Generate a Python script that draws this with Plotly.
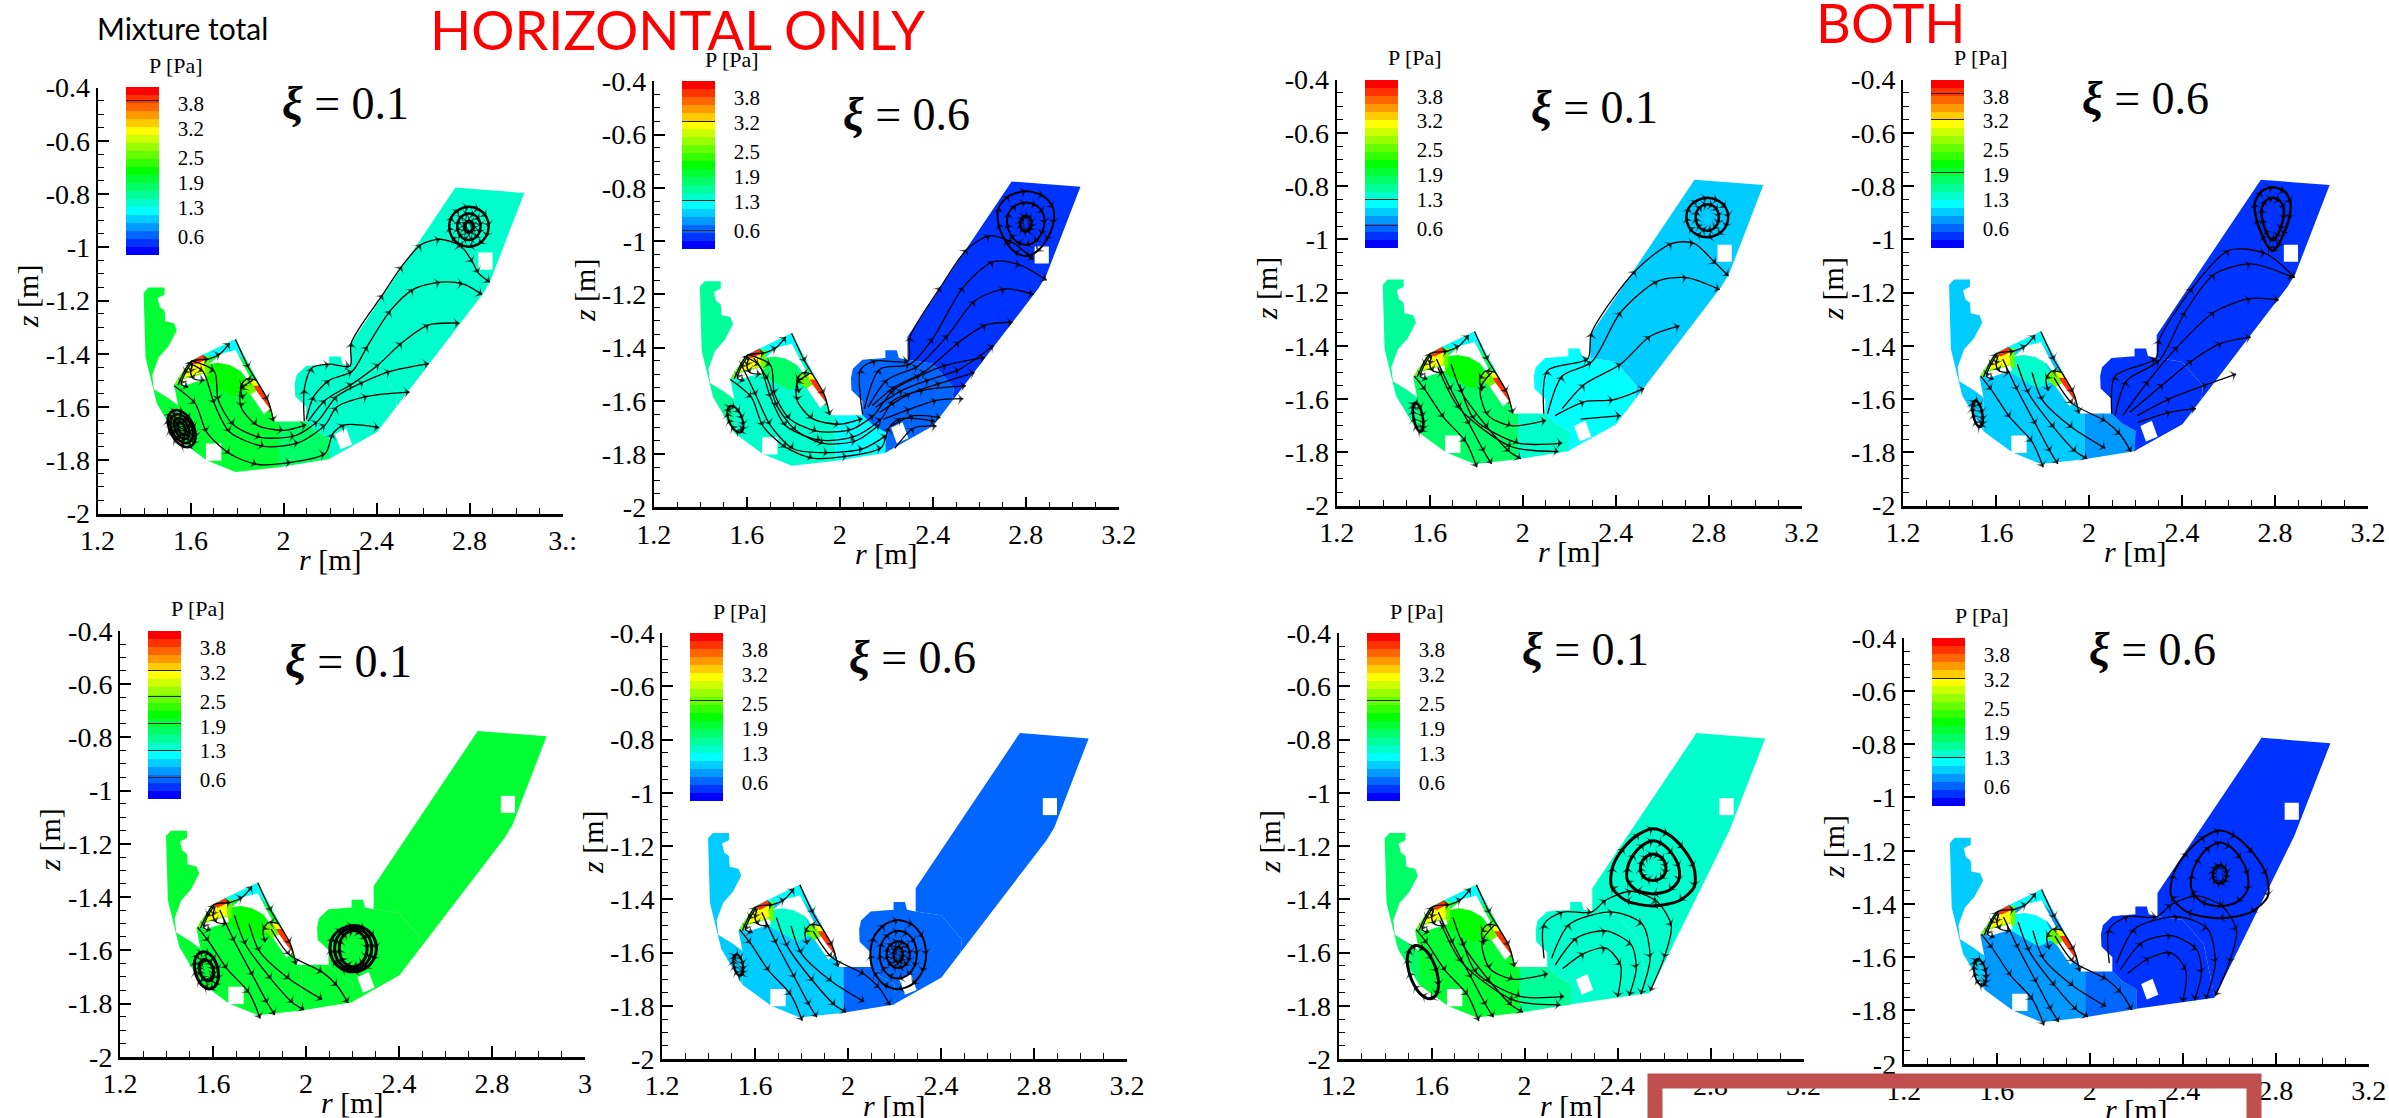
import plotly.graph_objects as go

W, H = 2389, 1118

# ---------- panels (pixels of the page) ----------
PANEL_LEFT = [97.6, 653.8, 1336.7, 1903, 120, 662, 1338.6, 1903.8]
PANEL_TOP = [87.5, 81.3, 79.6, 79.6, 630.8, 633, 633, 637.7]
PANEL_WIDTH, PANEL_HEIGHT = 465, 426
XI_LABEL = ["0.1", "0.6", "0.1", "0.6", "0.1", "0.6", "0.1", "0.6"]
XI_X = [345, 906, 1594, 2145, 348, 913, 1585, 2152]
XI_Y = [104, 114, 107, 99, 661, 657, 649, 649]
X_TICK_VALUES = [1.2, 1.6, 2.0, 2.4, 2.8, 3.2]
X_TICK_TEXT = ["1.2", "1.6", "2", "2.4", "2.8", "3.2"]
LAST_X_LABEL = ["3.:", "3.2", "3.2", "3.2", "3", "3.2", "3.2", "3.2"]
Y_TICK_VALUES = [-0.4, -0.6, -0.8, -1, -1.2, -1.4, -1.6, -1.8, -2]
Y_TICK_TEXT = ["-0.4", "-0.6", "-0.8", "-1", "-1.2", "-1.4", "-1.6", "-1.8", "-2"]

# ---------- colour levels ----------
P_MIN, P_MAX = 0.15, 4.2
BANDS = ["#0000ff", "#0033ff", "#0066ff", "#0099ff", "#00ccff", "#00ffff", "#00ffcc",
         "#00ff99", "#00ff66", "#00ff33", "#00ff00", "#33ff00", "#66ff00", "#99ff00",
         "#ccff00", "#ffff00", "#ffcc00", "#ff9900", "#ff6600", "#ff3300", "#ff0000"]
LEGEND_TICKS = [0.6, 1.3, 1.9, 2.5, 3.2, 3.8]
LEGEND_LINES = [[1.96, 3.87], [0.6, 1.32, 3.23], [0.69, 1.31, 2.61], [1.33, 1.97, 3.25, 3.88],
                [0.67, 1.31, 1.97, 2.62, 3.25], [2.58], [2.58], [0.68, 1.32, 2.61, 3.23]]

# ---------- pressure of each zone, per panel ----------
P_LOBE = [1.97, 1.57, 1.57, 0.96, 1.97, 0.96, 1.77, 0.96]
P_INNER = [1.97, 1.37, 1.77, 1.0, 1.97, 0.96, 1.9, 0.76]
P_CROWN = [2.2, 1.77, 2.2, 1.37, 2.2, 1.37, 2.2, 1.16]
P_MID = [1.77, 1.16, 1.37, 0.76, 1.97, 0.55, 1.57, 0.55]
P_NEAR = [1.37, 0.55, 1.16, 0.35, 1.97, 0.55, 1.37, 0.35]
P_OUTER = [1.37, 0.35, 0.96, 0.35, 1.97, 0.55, 1.37, 0.35]
P_DOME = 1.2

# ---------- geometry, r and z in metres ----------
LOBE_R = [1.419, 1.488, 1.488, 1.458, 1.468, 1.488, 1.491, 1.529, 1.541, 1.505, 1.463, 1.435, 1.442, 1.505,
          1.546, 1.546, 1.455, 1.406, 1.398]
LOBE_Z = [-1.151, -1.151, -1.178, -1.191, -1.225, -1.238, -1.278, -1.285, -1.312, -1.372, -1.413, -1.48,
          -1.533, -1.567, -1.594, -1.721, -1.587, -1.413, -1.171]
INNER_R = [1.529, 1.595, 1.793, 1.941, 1.962, 1.98, 1.98, 1.793, 1.669, 1.546, 1.546]
INNER_Z = [-1.517, -1.429, -1.346, -1.587, -1.654, -1.654, -1.826, -1.844, -1.80, -1.721, -1.594]
CROWN_R = [1.65, 1.73, 1.81, 1.85, 1.78, 1.66]
CROWN_Z = [-1.44, -1.425, -1.46, -1.53, -1.56, -1.50]
MID_R = [1.98, 2.097, 2.14, 2.2, 2.2, 1.98]
MID_Z = [-1.654, -1.654, -1.69, -1.72, -1.795, -1.826]
NEAR_R = [2.097, 2.097, 2.05, 2.048, 2.056, 2.097, 2.196, 2.196, 2.245, 2.254, 2.291, 2.40, 2.49, 2.484, 2.402, 2.196, 2.2, 2.14]
NEAR_Z = [-1.654, -1.6, -1.56, -1.513, -1.48, -1.446, -1.439, -1.41, -1.41, -1.439, -1.446, -1.46, -1.55, -1.6, -1.694, -1.795, -1.72, -1.69]
OUTER_R = [2.291, 2.291, 2.739, 3.035, 2.887, 2.854, 2.402, 2.484, 2.49, 2.40]
OUTER_Z = [-1.446, -1.359, -0.776, -0.796, -1.131, -1.178, -1.694, -1.6, -1.55, -1.46]
NEAR_B_R = [2.097, 2.097, 2.05, 2.048, 2.056, 2.097, 2.196, 2.196, 2.245, 2.254, 2.291, 2.40, 2.49, 2.537, 2.2, 2.2, 2.14]
NEAR_B_Z = [-1.654, -1.6, -1.56, -1.513, -1.48, -1.446, -1.439, -1.41, -1.41, -1.439, -1.446, -1.46, -1.55, -1.752, -1.794, -1.72, -1.69]
OUTER_B_R = [2.291, 2.291, 2.739, 3.035, 2.88, 2.537, 2.49, 2.40]
OUTER_B_Z = [-1.446, -1.359, -0.776, -0.796, -1.144, -1.752, -1.55, -1.46]
DOME_R = [1.595, 1.793, 1.92, 1.87, 1.793, 1.70]
DOME_Z = [-1.429, -1.346, -1.56, -1.47, -1.39, -1.41]
HOT_ZONES = [
    ([1.529, 1.595, 1.68, 1.68, 1.56], [-1.517, -1.429, -1.405, -1.48, -1.51], 2.6),
    ([1.57, 1.60, 1.66, 1.66], [-1.49, -1.43, -1.425, -1.47], 3.2),
    ([1.60, 1.65, 1.67, 1.62], [-1.43, -1.405, -1.42, -1.44], 3.9),
    ([1.81, 1.85, 1.90, 1.92], [-1.52, -1.48, -1.53, -1.60], 2.5),
    ([1.85, 1.88, 1.92, 1.90], [-1.49, -1.50, -1.56, -1.56], 3.2),
    ([1.87, 1.90, 1.945, 1.94], [-1.52, -1.52, -1.60, -1.62], 4.0),
]
WHITE_ZONES = [
    ([2.838, 2.899, 2.899, 2.838], [-1.02, -1.02, -1.084, -1.084]),
    ([1.666, 1.732, 1.732, 1.666], [-1.737, -1.737, -1.802, -1.802]),
    ([2.221, 2.27, 2.295, 2.245], [-1.701, -1.681, -1.741, -1.759]),
    ([1.554, 1.661, 1.669, 1.562], [-1.50, -1.473, -1.493, -1.523]),
    ([1.858, 1.883, 1.941, 1.916], [-1.553, -1.54, -1.607, -1.627]),
    ([1.677, 1.735, 1.793, 1.85, 1.858, 1.817, 1.768, 1.719], [-1.439, -1.399, -1.386, -1.48, -1.513, -1.466, -1.442, -1.434]),
]

# ---------- streamlines ----------
DOME_LINES = [
    ([1.546, 1.603, 1.677, 1.727, 1.768], [-1.517, -1.429, -1.42, -1.40, -1.36]),
    ([1.793, 1.85, 1.932, 1.957], [-1.346, -1.453, -1.574, -1.654]),
    ([1.605, 1.575, 1.56, 1.59], [-1.432, -1.475, -1.515, -1.525]),
    ([1.61, 1.60, 1.615, 1.66], [-1.435, -1.47, -1.495, -1.50]),
    ([1.885, 1.84, 1.815, 1.825], [-1.50, -1.495, -1.525, -1.57]),
]
TURN_LINES = [
    ([1.603, 1.702, 1.719, 1.784, 1.90, 2.048, 2.146, 2.229, 2.344, 2.459, 2.624],
     [-1.426, -1.466, -1.574, -1.667, -1.714, -1.708, -1.654, -1.56, -1.506, -1.466, -1.437]),
    ([1.587, 1.653, 1.702, 1.768, 1.916, 2.064, 2.179, 2.229, 2.36, 2.542],
     [-1.433, -1.466, -1.587, -1.694, -1.748, -1.734, -1.667, -1.60, -1.56, -1.544]),
    ([1.529, 1.62, 1.669, 1.768, 1.883, 2.031, 2.179, 2.212, 2.262, 2.41],
     [-1.52, -1.587, -1.694, -1.775, -1.815, -1.808, -1.775, -1.70, -1.667, -1.677]),
    ([1.867, 1.817, 1.817, 1.883, 1.998, 2.097], [-1.50, -1.533, -1.60, -1.667, -1.688, -1.667]),
]
TURN_EXTRA = [
    ([1.63, 1.69, 1.73, 1.81, 1.93, 2.07, 2.17], [-1.44, -1.52, -1.62, -1.71, -1.76, -1.75, -1.69]),
    ([1.58, 1.64, 1.70, 1.80, 1.95, 2.10, 2.20], [-1.47, -1.58, -1.69, -1.78, -1.795, -1.78, -1.73]),
]
TURN_BOTH = [
    ([1.867, 1.817, 1.85, 1.95, 2.10], [-1.50, -1.56, -1.66, -1.70, -1.68]),
    ([1.729, 1.792, 1.981, 2.17], [-1.545, -1.675, -1.765, -1.765]),
    ([1.635, 1.729, 1.95, 2.154], [-1.48, -1.636, -1.778, -1.797]),
]
DOWN_LINES = [
    ([1.534, 1.581, 1.66, 1.755, 1.803], [-1.514, -1.566, -1.669, -1.76, -1.856]),
    ([1.629, 1.692, 1.771, 1.834, 1.866], [-1.449, -1.566, -1.695, -1.798, -1.843]),
    ([1.692, 1.74, 1.85, 1.944, 1.992], [-1.469, -1.578, -1.708, -1.798, -1.824]),
    ([1.755, 1.80, 1.929, 2.07], [-1.5, -1.604, -1.708, -1.785]),
    ([1.85, 1.929, 2.07, 2.134, 2.181], [-1.52, -1.617, -1.682, -1.733, -1.798]),
]
OUTER_P1 = [
    ([2.089, 2.089, 2.122, 2.196, 2.286, 2.291, 2.426, 2.509, 2.591, 2.673, 2.764, 2.813, 2.838, 2.887],
     [-1.654, -1.533, -1.453, -1.439, -1.446, -1.359, -1.178, -1.071, -0.99, -0.97, -0.997, -1.057, -1.097, -1.131]),
    ([2.097, 2.13, 2.196, 2.295, 2.36, 2.459, 2.558, 2.673, 2.772, 2.854],
     [-1.647, -1.56, -1.50, -1.466, -1.372, -1.238, -1.158, -1.131, -1.138, -1.178]),
    ([2.105, 2.18, 2.295, 2.41, 2.509, 2.624, 2.756], [-1.654, -1.574, -1.513, -1.439, -1.359, -1.292, -1.285]),
]
OUTER_P2 = [
    ([2.098, 2.09, 2.155, 2.294, 2.302, 2.433, 2.547, 2.645, 2.743, 2.833],
     [-1.65, -1.482, -1.45, -1.45, -1.36, -1.173, -1.031, -0.98, -1.006, -1.07]),
    ([2.106, 2.171, 2.302, 2.4, 2.531, 2.661, 2.776, 2.89], [-1.63, -1.482, -1.463, -1.366, -1.173, -1.077, -1.09, -1.147]),
    ([2.122, 2.204, 2.335, 2.465, 2.58, 2.71, 2.833], [-1.624, -1.521, -1.47, -1.354, -1.225, -1.18, -1.2]),
    ([2.139, 2.237, 2.367, 2.514, 2.629, 2.743], [-1.618, -1.547, -1.489, -1.379, -1.315, -1.305]),
    ([2.155, 2.269, 2.384, 2.514, 2.661], [-1.624, -1.56, -1.521, -1.482, -1.392]),
    ([2.171, 2.302, 2.433, 2.58], [-1.644, -1.573, -1.534, -1.493]),
    ([2.188, 2.302, 2.416, 2.531], [-1.669, -1.631, -1.598, -1.592]),
    ([2.22, 2.318, 2.433], [-1.695, -1.656, -1.663]),
    ([2.237, 2.318, 2.416], [-1.779, -1.702, -1.695]),
]
OUTER_P3 = [
    ([2.091, 2.107, 2.28, 2.296, 2.485, 2.642, 2.737, 2.832, 2.885],
     [-1.655, -1.493, -1.448, -1.351, -1.118, -1.015, -1.015, -1.092, -1.138]),
    ([2.107, 2.17, 2.296, 2.422, 2.58, 2.706, 2.847], [-1.655, -1.513, -1.461, -1.273, -1.157, -1.144, -1.189]),
    ([2.17, 2.265, 2.422, 2.548, 2.674], [-1.636, -1.545, -1.468, -1.364, -1.325]),
    ([2.139, 2.265, 2.39, 2.523], [-1.662, -1.61, -1.603, -1.56]),
    ([2.249, 2.422], [-1.675, -1.662]),
]
OUTER_P4 = [
    ([2.098, 2.113, 2.287, 2.302, 2.444, 2.602, 2.759, 2.885], [-1.655, -1.513, -1.448, -1.377, -1.183, -1.041, -1.053, -1.144]),
    ([2.113, 2.161, 2.302, 2.413, 2.539, 2.696, 2.879], [-1.662, -1.532, -1.455, -1.273, -1.131, -1.092, -1.144]),
    ([2.145, 2.255, 2.381, 2.539, 2.696, 2.816], [-1.662, -1.532, -1.403, -1.273, -1.222, -1.228]),
    ([2.176, 2.318, 2.444, 2.57, 2.696], [-1.649, -1.545, -1.455, -1.39, -1.367]),
    ([2.208, 2.35, 2.507, 2.633], [-1.662, -1.597, -1.545, -1.506]),
    ([2.208, 2.35, 2.46], [-1.688, -1.649, -1.636]),
]
LOOP_LINES = [
    ([2.084, 2.084, 2.163, 2.288, 2.35, 2.459, 2.57, 2.631, 2.60, 2.54], [-1.622, -1.493, -1.448, -1.448, -1.403, -1.37, -1.409, -1.50, -1.62, -1.745]),
    ([2.116, 2.194, 2.381, 2.506, 2.54, 2.50], [-1.622, -1.493, -1.448, -1.493, -1.62, -1.757]),
    ([2.131, 2.225, 2.35, 2.459, 2.48, 2.45], [-1.648, -1.545, -1.519, -1.571, -1.66, -1.762]),
    ([2.163, 2.256, 2.35, 2.413, 2.40], [-1.661, -1.603, -1.584, -1.648, -1.768]),
]
PANEL_LINES = [
    DOME_LINES + TURN_LINES + OUTER_P1,
    DOME_LINES + TURN_LINES + TURN_EXTRA + OUTER_P2,
    DOME_LINES + DOWN_LINES[:3] + TURN_BOTH + OUTER_P3,
    DOME_LINES + DOWN_LINES + OUTER_P4,
    DOME_LINES + DOWN_LINES,
    DOME_LINES + DOWN_LINES,
    DOME_LINES + DOWN_LINES[:3] + TURN_BOTH + LOOP_LINES,
    DOME_LINES + DOWN_LINES + LOOP_LINES,
]

# recirculation cells: centre r, centre z, half width, half height, lean, taper towards the top
RING_DR = [0.0, 0.52, 0.88, 1.0, 0.86, 0.5, 0.0, -0.52, -0.87, -1.0, -0.88, -0.5, 0.0]
RING_DZ = [1.0, 0.86, 0.5, 0.0, -0.5, -0.86, -1.0, -0.86, -0.5, 0.0, 0.5, 0.86, 1.0]
PANEL_CELLS = [
    [(2.797, -0.923, .085, .075, 0, 0), (2.797, -0.923, .05, .05, 0, 0), (2.797, -0.923, .02, .022, 0, 0),
     (1.562, -1.681, .055, .07, -.35, 0), (1.562, -1.681, .045, .055, -.35, 0), (1.562, -1.681, .03, .04, -.35, 0),
     (1.562, -1.681, .015, .025, -.35, 0)],
    [(2.80, -0.935, .118, .122, 0, -.25), (2.80, -0.935, .08, .08, 0, -.1), (2.80, -0.935, .025, .03, 0, 0),
     (1.551, -1.669, .03, .05, -.35, 0)],
    [(2.794, -0.918, .09, .074, 0, 0), (2.794, -0.918, .05, .05, 0, 0), (1.55, -1.668, .02, .055, -.2, 0)],
    [(2.79, -0.924, .07, .12, 0, -.5), (2.79, -0.924, .045, .08, 0, -.4), (1.521, -1.655, .02, .05, -.2, 0)],
    [(1.572, -1.675, .05, .07, -.2, 0), (1.572, -1.675, .03, .04, -.2, 0),
     (2.203, -1.594, .10, .087, 0, 0), (2.203, -1.594, .06, .068, 0, 0), (2.203, -1.594, .08, .078, 0, 0)],
    [(1.528, -1.647, .02, .04, -.2, 0), (2.216, -1.608, .12, .13, 0, 0), (2.216, -1.608, .08, .09, 0, 0),
     (2.216, -1.608, .05, .05, 0, 0), (2.216, -1.608, .02, .03, 0, 0)],
    [(2.553, -1.28, .175, .145, 0, .35), (2.553, -1.28, .11, .10, 0, .3), (2.553, -1.28, .055, .05, 0, .1),
     (1.563, -1.674, .06, .10, -.3, 0)],
    [(2.559, -1.289, .20, .165, 0, .4), (2.559, -1.289, .12, .12, 0, .3), (2.559, -1.289, .03, .035, 0, 0),
     (1.528, -1.657, .025, .05, -.2, 0)],
]
CELL_WIDTH = [2.5, 2, 2.5, 2.5, 3, 2, 3, 2]


def band(p):
    i = round((p - P_MIN) / (P_MAX - P_MIN) * (len(BANDS) - 1))
    return BANDS[max(0, min(len(BANDS) - 1, i))]


def legend_scale(lines):
    n = len(BANDS)
    marks = [(v - P_MIN) / (P_MAX - P_MIN) for v in lines]
    half = 0.002
    stops = []
    for i, c in enumerate(BANDS):
        a, b = i / n, (i + 1) / n
        stops += [[a, c]]
        for t in marks:
            if a <= t < b:
                t = min(max(t, a + half), b - half)
                stops += [[t - half, c], [t - half, "#222222"], [t + half, "#222222"], [t + half, c]]
        stops += [[b, c]]
    return stops


fig = go.Figure()
annotations = []


def zone(n, rs, zs, color):
    fig.add_trace(go.Scatter(x=rs, y=zs, mode="lines", fill="toself", fillcolor=color,
                             line=dict(width=0, color=color), xaxis=f"x{n}", yaxis=f"y{n}",
                             hoverinfo="skip", showlegend=False))


def stream(n, rs, zs, width):
    sizes = [0] + [9] * (len(rs) - 1)
    fig.add_trace(go.Scatter(x=rs, y=zs, mode="lines+markers",
                             line=dict(color="black", width=width, shape="spline", smoothing=0.8),
                             marker=dict(symbol="arrow-wide", angleref="previous", size=sizes, color="black",
                                         line=dict(width=0)),
                             xaxis=f"x{n}", yaxis=f"y{n}", hoverinfo="skip", showlegend=False))


def label(text, x, y, size, family="Liberation Serif", color="black", angle=0):
    annotations.append(dict(text=text, x=x / W, y=1 - y / H, xref="paper", yref="paper", xanchor="center",
                            yanchor="middle", showarrow=False, textangle=angle,
                            font=dict(family=family, size=size, color=color)))


layout_axes = {}
for k in range(8):
    n = k + 1
    left, top = PANEL_LEFT[k], PANEL_TOP[k]
    tail = "" if n == 1 else str(n)
    both = k >= 6
    zone(n, LOBE_R, LOBE_Z, band(P_LOBE[k]))
    zone(n, INNER_R, INNER_Z, band(P_INNER[k]))
    zone(n, MID_R, MID_Z, band(P_MID[k]))
    zone(n, NEAR_B_R if both else NEAR_R, NEAR_B_Z if both else NEAR_Z, band(P_NEAR[k]))
    zone(n, OUTER_B_R if both else OUTER_R, OUTER_B_Z if both else OUTER_Z, band(P_OUTER[k]))
    zone(n, CROWN_R, CROWN_Z, band(P_CROWN[k]))
    zone(n, DOME_R, DOME_Z, band(P_DOME))
    for rs, zs, p in HOT_ZONES:
        zone(n, rs, zs, band(p))
    for rs, zs in WHITE_ZONES:
        zone(n, rs, zs, "#ffffff")
    for rs, zs in PANEL_LINES[k]:
        stream(n, rs, zs, 1.3)
    for cr, cz, ar, az, lean, taper in PANEL_CELLS[k]:
        rs = [cr + ar * a * (1 - taper * b) + lean * az * b for a, b in zip(RING_DR, RING_DZ)]
        zs = [cz + az * b for b in RING_DZ]
        stream(n, rs, zs, CELL_WIDTH[k])

    # legend bar carried by an invisible marker trace
    fig.add_trace(go.Scatter(
        x=[1.2, 1.2], y=[-2, -2], mode="markers", xaxis=f"x{n}", yaxis=f"y{n}", hoverinfo="skip", showlegend=False,
        marker=dict(size=1, opacity=0, color=[P_MIN, P_MAX], cmin=P_MIN, cmax=P_MAX,
                    colorscale=legend_scale(LEGEND_LINES[k]),
                    colorbar=dict(x=(left + 28) / W, xanchor="left", y=1 - top / H, yanchor="top",
                                  len=168 / H, lenmode="fraction", thickness=33, thicknessmode="pixels",
                                  xpad=0, ypad=0, outlinewidth=0, tickmode="array", tickvals=LEGEND_TICKS,
                                  ticktext=[str(v) for v in LEGEND_TICKS], ticks="outside", ticklen=15,
                                  tickcolor="rgba(0,0,0,0)", tickfont=dict(family="Liberation Serif", size=21, color="black")))))

    ticktext = X_TICK_TEXT[:-1] + [LAST_X_LABEL[k]]
    layout_axes[f"xaxis{tail}"] = dict(
        domain=[left / W, (left + PANEL_WIDTH) / W], range=[1.2, 3.2], anchor=f"y{tail}", showline=True,
        linecolor="black", linewidth=2.5, showgrid=False, zeroline=False, tickmode="array",
        tickvals=X_TICK_VALUES, ticktext=ticktext, ticks="inside", ticklen=11, tickwidth=2, tickcolor="black",
        tickangle=0, tickfont=dict(family="Liberation Serif", size=28, color="black"),
        minor=dict(ticks="inside", tick0=1.2, dtick=0.1, ticklen=6, tickwidth=1, tickcolor="black", showgrid=False))
    layout_axes[f"yaxis{tail}"] = dict(
        domain=[1 - (top + PANEL_HEIGHT) / H, 1 - top / H], range=[-2, -0.4], anchor=f"x{tail}", showline=True,
        linecolor="black", linewidth=2, showgrid=False, zeroline=False, tickmode="array",
        tickvals=Y_TICK_VALUES, ticktext=Y_TICK_TEXT, ticks="inside", ticklen=11, tickwidth=2, tickcolor="black",
        tickfont=dict(family="Liberation Serif", size=28, color="black"),
        minor=dict(ticks="inside", tick0=-2, dtick=0.05, ticklen=6, tickwidth=1, tickcolor="black", showgrid=False))

    label("P [Pa]", left + 78, top - 22, 22)
    label(f"<b><i>ξ</i></b> = {XI_LABEL[k]}", XI_X[k], XI_Y[k], 46)
    label("<i>r</i> [m]", left + PANEL_WIDTH / 2, top + PANEL_HEIGHT + 46, 30)
    label("<i>z</i> [m]", left - 70, top + PANEL_HEIGHT / 2 - 4, 30, angle=-90)

label("Mixture total", 182, 28, 30, family="Lato")
label("HORIZONTAL ONLY", 678, 29, 54, family="Lato", color="#ff0000")
label("BOTH", 1891, 23, 54, family="Lato", color="#ff0000")

fig.update_layout(width=W, height=H, margin=dict(l=0, r=0, t=0, b=0, autoexpand=False), paper_bgcolor="white",
                  plot_bgcolor="rgba(0,0,0,0)", showlegend=False, annotations=annotations,
                  shapes=[dict(type="rect", xref="paper", yref="paper", layer="above", x0=1655 / W, x1=2254 / W,
                               y0=-0.1, y1=1 - 1081 / H, line=dict(color="#C0504D", width=15),
                               fillcolor="rgba(0,0,0,0)")],
                  **layout_axes)

fig.write_html("out.html", config=dict(displayModeBar=False),
               post_script="document.body.style.margin='0';document.body.style.overflow='hidden';")
